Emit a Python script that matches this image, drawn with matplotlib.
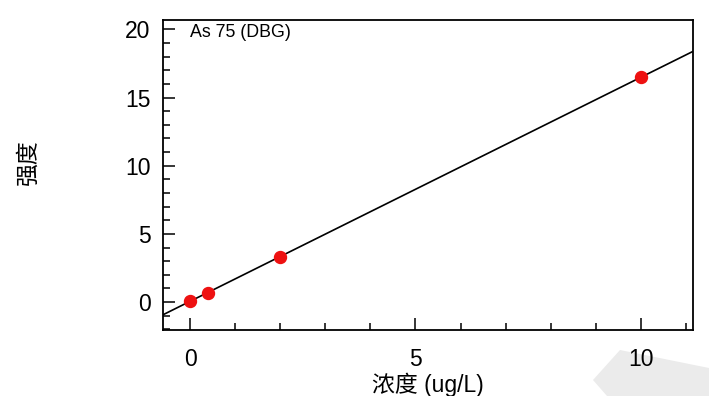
import numpy as np
import matplotlib
matplotlib.use("Agg")
import matplotlib.pyplot as plt
from matplotlib.patches import Polygon

plt.rcParams['font.family'] = ['Liberation Sans', 'Noto Sans CJK SC', 'DejaVu Sans']

# calibration standards (As 75, DBG)
conc = [0.0, 0.4, 2.0, 10.0]
intensity = [0.1, 0.7, 3.3, 16.5]
x_ticks = [0, 5, 10]
y_ticks = [0, 5, 10, 15, 20]

# linear fit through the standards
slope, intercept = np.polyfit(conc, intensity, 1)
xlim = (-0.6, 11.15)
ylim = (-2.05, 20.7)

fig = plt.figure(figsize=(7.09, 3.96), dpi=100)
ax = fig.add_axes([0.230, 0.1667, 0.747, 0.783])

xs = np.array(xlim)
ax.plot(xs, slope * xs + intercept, color='black', lw=1.2, zorder=2)
ax.plot(conc, intensity, 'o', color='#ee1111', ms=8.6, zorder=3)

ax.set_xlim(*xlim)
ax.set_ylim(*ylim)
ax.set_xticks(x_ticks)
ax.set_yticks(y_ticks)
ax.set_xticks(np.arange(0, 12), minor=True)
ax.set_yticks(np.arange(-2, 21), minor=True)
ax.tick_params(which='major', direction='in', length=8.5, width=1.1, labelsize=16.5)
ax.tick_params(axis='x', which='major', pad=13)
ax.tick_params(axis='y', which='major', pad=9)
ax.tick_params(which='minor', direction='in', length=5, width=1.1)
for s in ax.spines.values():
    s.set_linewidth(1.3)

ax.text(0.051, 0.958, 'As 75 (DBG)', transform=ax.transAxes, fontsize=12.8, va='center', ha='left')

fig.text(428 / 709, 1 - 385 / 396, '浓度 (ug/L)', fontsize=16.5, ha='center', va='center')
fig.text(28 / 709, 1 - 162 / 396, '强度', fontsize=16.5, ha='center', va='center', rotation=90)

# faint grey shape in the lower right corner
fig.patches.append(Polygon([(620 / 709, 1 - 350 / 396), (1.0, 1 - 368 / 396), (1.0, 0.0),
                            (607 / 709, 0.0), (593 / 709, 1 - 380 / 396)],
                           closed=True, transform=fig.transFigure, facecolor='#ebebeb',
                           edgecolor='none', zorder=-1))

fig.savefig('out.png', dpi=100)
